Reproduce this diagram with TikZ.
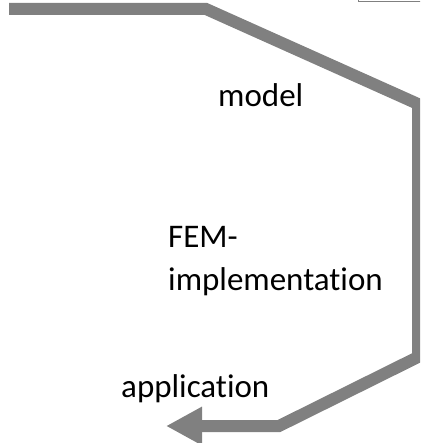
\documentclass[tikz,border=0pt]{standalone}
\usepackage{fontspec}
\setmainfont[Ligatures=NoCommon]{Carlito}
\usepackage{tikz}
\usetikzlibrary{arrows.meta, positioning}

\begin{document}
\begin{tikzpicture}[
    x=1pt, y=-1pt,
    label/.style={inner sep=0pt, anchor=base west, align=left,
                font=\fontsize{33}{43}\selectfont},
    flow/.style={draw=gray, line width=12pt, miter limit=10,
                -{Triangle[length=36pt, width=36pt]}},
    frame/.style={draw=gray, line width=1pt}
]
\useasboundingbox (0,0) rectangle (420,443);
\clip (0,0) rectangle (420,443);

% === PATH CORNERS ===
\coordinate (start) at (9,9);
\coordinate (c1) at (206,9);
\coordinate (c2) at (418,104);
\coordinate (c3) at (418,357);
\coordinate (c4) at (279,426);
\coordinate (stop) at (166,426);

% === LABELS ===
\node[label] (model) at (218,107) {model};
\node[label] (fem) at (168,290) {FEM-\\implementation};
\node[label] (app) at (121,397) {application};

% === FRAME (top right) ===
\draw[frame] (358,-10) rectangle (430,1.5);

% === ARROW ===
\draw[flow] (start) -- (c1) -- (c2) -- (c3) -- (c4) -- (stop);

\end{tikzpicture}
\end{document}
